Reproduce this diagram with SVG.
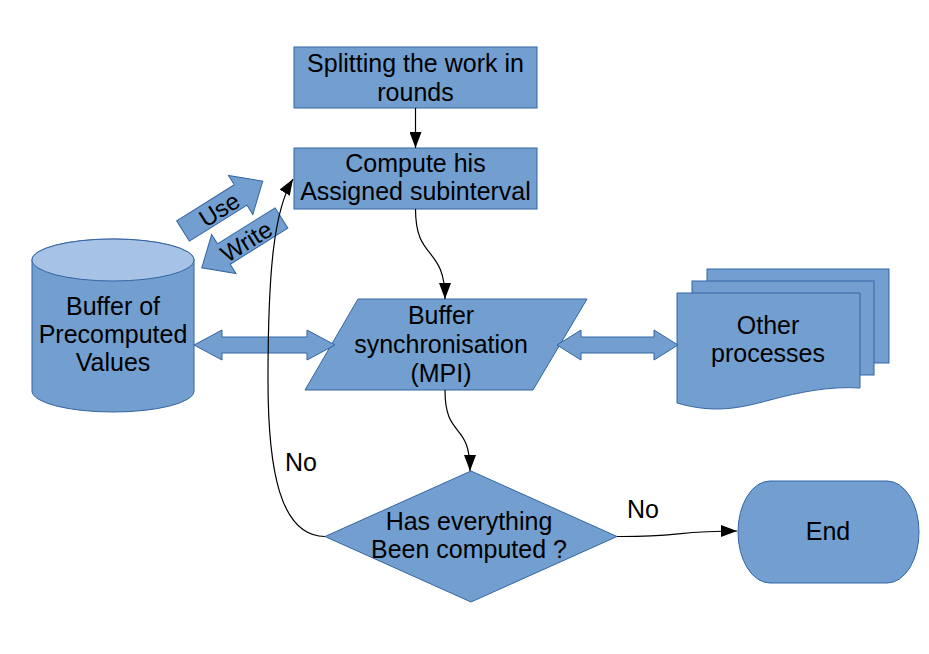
<svg xmlns="http://www.w3.org/2000/svg" width="929" height="654" viewBox="0 0 929 654">
<style>
.s{fill:#729fcf;stroke:#3465a4;stroke-width:1}
.t{font-family:"Liberation Sans",Arial,sans-serif;font-size:25px;fill:#000;text-anchor:middle}
.l{font-family:"Liberation Sans",Arial,sans-serif;font-size:25px;fill:#000}
.c{fill:none;stroke:#000;stroke-width:1.2}
</style>
<defs>
<marker id="ah" markerUnits="userSpaceOnUse" markerWidth="16" markerHeight="12" refX="16" refY="6" orient="auto">
<path d="M0,0 L16,6 L0,12 Z" fill="#000"/>
</marker>
<path id="blk" d="M0,-12 H68 V-23 L94,0 L68,23 V12 H0 Z"/>
</defs>
<rect width="929" height="654" fill="#fff"/>

<g id="split">
<rect class="s" x="294" y="47" width="243" height="61"/>
<text class="t" x="415.5" y="72">Splitting the work in</text>
<text class="t" x="415.5" y="101">rounds</text>
</g>

<g id="compute">
<rect class="s" x="294" y="148" width="243" height="61"/>
<text class="t" x="415.5" y="171.5">Compute his</text>
<text class="t" x="415.5" y="200">Assigned subinterval</text>
</g>

<g id="use">
<use href="#blk" class="s" transform="translate(183,231) rotate(-32)"/>
<text class="t" style="font-size:24px" transform="translate(219,209) rotate(-32)" x="0" y="9">Use</text>
</g>

<g id="write">
<use href="#blk" class="s" transform="translate(281.5,218) rotate(148)"/>
<text class="t" style="font-size:24px" transform="translate(246,241) rotate(-32)" x="0" y="9">Write</text>
</g>

<g id="buffer">
<path class="s" d="M32,260 V391 A81,21 0 0 0 194,391 V260 A81,21 0 0 0 32,260 Z"/>
<ellipse cx="113" cy="260" rx="81" ry="21" fill="#a6c3e5" stroke="#3465a4" stroke-width="1"/>
<text class="t" x="113" y="315">Buffer of</text>
<text class="t" x="113" y="343">Precomputed</text>
<text class="t" x="113" y="371">Values</text>
</g>

<g id="sync">
<polygon class="s" points="358,299 587,299 533,390 305,390"/>
<text class="t" x="441" y="324">Buffer</text>
<text class="t" x="441" y="353">synchronisation</text>
<text class="t" x="441" y="381.5">(MPI)</text>
</g>

<g id="others">
<rect class="s" x="707" y="269" width="182" height="94"/>
<rect class="s" x="692" y="281" width="182" height="94"/>
<path class="s" d="M677,293 H860 V388 C830,386 800,392 770,400 C740,408 715,414 677,403 Z"/>
<text class="t" x="768" y="334">Other</text>
<text class="t" x="768" y="362">processes</text>
</g>

<g id="decision">
<polygon class="s" points="471,471 617,536.5 471,602 325,536.5"/>
<text class="t" x="469" y="530">Has everything</text>
<text class="t" x="469" y="558">Been computed ?</text>
</g>

<g id="end">
<path class="s" d="M770,481 H887 A32,51 0 0 1 887,583 H770 A32,51 0 0 1 770,481 Z"/>
<text class="t" x="828" y="540">End</text>
</g>

<g id="connectors">
<polygon class="s" points="194,345 222,330 222,337 307,337 307,330 335,345 307,360 307,353 222,353 222,360"/>
<polygon class="s" points="557,345 581,330 581,337 654,337 654,330 678,345 654,360 654,353 581,353 581,360"/>
<path class="c" d="M415.5,108 V148" marker-end="url(#ah)"/>
<path class="c" d="M415.5,209 C415.5,262 445,245 445,299" marker-end="url(#ah)"/>
<path class="c" d="M445,390 C445,440 470,420 470,471" marker-end="url(#ah)"/>
<path class="c" d="M617,536.5 C680,537 675,531 737,531" marker-end="url(#ah)"/>
<path class="c" d="M325,536.5 C280,536 268,470 268,380 C268,270 274,210 293,179" marker-end="url(#ah)"/>
<text class="l" x="285" y="471">No</text>
<text class="l" x="627" y="518">No</text>
</g>
</svg>
